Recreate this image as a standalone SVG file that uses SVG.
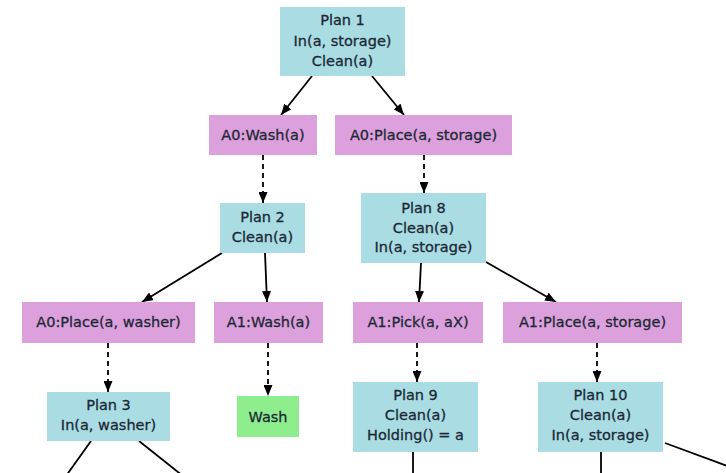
<svg xmlns="http://www.w3.org/2000/svg" width="726" height="473" viewBox="0 0 726 473">
  <defs>
    <marker id="arrow" markerUnits="userSpaceOnUse" markerWidth="11" markerHeight="9" refX="11" refY="4.5" orient="auto">
      <path d="M0,0 L11,4.5 L0,9 z" fill="#000"/>
    </marker>
    <style>
      .plan { fill: #a9dce3; }
      .act { fill: #dca0dc; }
      .prim { fill: #8eee8e; }
      text { font-family: "DejaVu Sans", "Liberation Sans", sans-serif; font-size: 14.5px; fill: #1c2836; stroke: #1c2836; stroke-width: 0.3; text-anchor: middle; }
      .edge { stroke: #000; stroke-width: 1.8; fill: none; }
      .dash { stroke-dasharray: 5 4; }
    </style>
  </defs>
  <rect width="726" height="473" fill="#fff"/>

  <g id="edges">
    <line class="edge" x1="312" y1="76" x2="281" y2="115" marker-end="url(#arrow)"/>
    <line class="edge" x1="372" y1="76" x2="404" y2="115" marker-end="url(#arrow)"/>
    <line class="edge" x1="222" y1="253" x2="142" y2="302" marker-end="url(#arrow)"/>
    <line class="edge" x1="265" y1="253" x2="267" y2="302" marker-end="url(#arrow)"/>
    <line class="edge" x1="421" y1="263" x2="419" y2="302" marker-end="url(#arrow)"/>
    <line class="edge" x1="486" y1="262" x2="556" y2="302" marker-end="url(#arrow)"/>
    <line class="edge dash" x1="263" y1="155" x2="263" y2="203" marker-end="url(#arrow)"/>
    <line class="edge dash" x1="424" y1="155" x2="424" y2="193" marker-end="url(#arrow)"/>
    <line class="edge dash" x1="108" y1="343" x2="108" y2="392" marker-end="url(#arrow)"/>
    <line class="edge dash" x1="268" y1="343" x2="268" y2="396" marker-end="url(#arrow)"/>
    <line class="edge dash" x1="417" y1="343" x2="417" y2="382" marker-end="url(#arrow)"/>
    <line class="edge dash" x1="597" y1="343" x2="597" y2="382" marker-end="url(#arrow)"/>
    <!-- edges continuing below the visible area -->
    <line class="edge" x1="91" y1="441" x2="66" y2="476"/>
    <line class="edge" x1="139" y1="441" x2="183" y2="476"/>
    <line class="edge" x1="413" y1="452" x2="413" y2="476"/>
    <line class="edge" x1="601" y1="452" x2="601" y2="476"/>
    <line class="edge" x1="665" y1="443" x2="730" y2="467"/>
  </g>

  <g id="plan1">
    <rect class="plan" x="280" y="7" width="125" height="69"/>
    <text x="342.5" y="25">Plan 1</text>
    <text x="342.5" y="46">In(a, storage)</text>
    <text x="342.5" y="66">Clean(a)</text>
  </g>
  <g id="a0-wash">
    <rect class="act" x="209" y="115" width="108" height="40"/>
    <text x="263" y="140">A0:Wash(a)</text>
  </g>
  <g id="a0-place-storage">
    <rect class="act" x="335" y="115" width="177" height="40"/>
    <text x="423.5" y="140">A0:Place(a, storage)</text>
  </g>
  <g id="plan2">
    <rect class="plan" x="220" y="203" width="85" height="50"/>
    <text x="262.5" y="222">Plan 2</text>
    <text x="262.5" y="242">Clean(a)</text>
  </g>
  <g id="plan8">
    <rect class="plan" x="361" y="193" width="125" height="70"/>
    <text x="423.5" y="213">Plan 8</text>
    <text x="423.5" y="233">Clean(a)</text>
    <text x="423.5" y="252">In(a, storage)</text>
  </g>
  <g id="a0-place-washer">
    <rect class="act" x="22" y="302" width="173" height="41"/>
    <text x="108.5" y="327">A0:Place(a, washer)</text>
  </g>
  <g id="a1-wash">
    <rect class="act" x="214" y="302" width="109" height="41"/>
    <text x="268.5" y="327">A1:Wash(a)</text>
  </g>
  <g id="a1-pick">
    <rect class="act" x="353" y="302" width="130" height="41"/>
    <text x="418" y="327">A1:Pick(a, aX)</text>
  </g>
  <g id="a1-place-storage">
    <rect class="act" x="503" y="302" width="179" height="41"/>
    <text x="592.5" y="327">A1:Place(a, storage)</text>
  </g>
  <g id="plan3">
    <rect class="plan" x="47" y="392" width="123" height="49"/>
    <text x="108.5" y="410">Plan 3</text>
    <text x="108.5" y="430">In(a, washer)</text>
  </g>
  <g id="wash">
    <rect class="prim" x="237" y="396" width="62" height="41"/>
    <text x="268" y="421.5">Wash</text>
  </g>
  <g id="plan9">
    <rect class="plan" x="353" y="382" width="125" height="70"/>
    <text x="415.5" y="400">Plan 9</text>
    <text x="415.5" y="420">Clean(a)</text>
    <text x="415.5" y="440">Holding() = a</text>
  </g>
  <g id="plan10">
    <rect class="plan" x="538" y="382" width="125" height="70"/>
    <text x="600.5" y="400">Plan 10</text>
    <text x="600.5" y="420">Clean(a)</text>
    <text x="600.5" y="440">In(a, storage)</text>
  </g>
</svg>
